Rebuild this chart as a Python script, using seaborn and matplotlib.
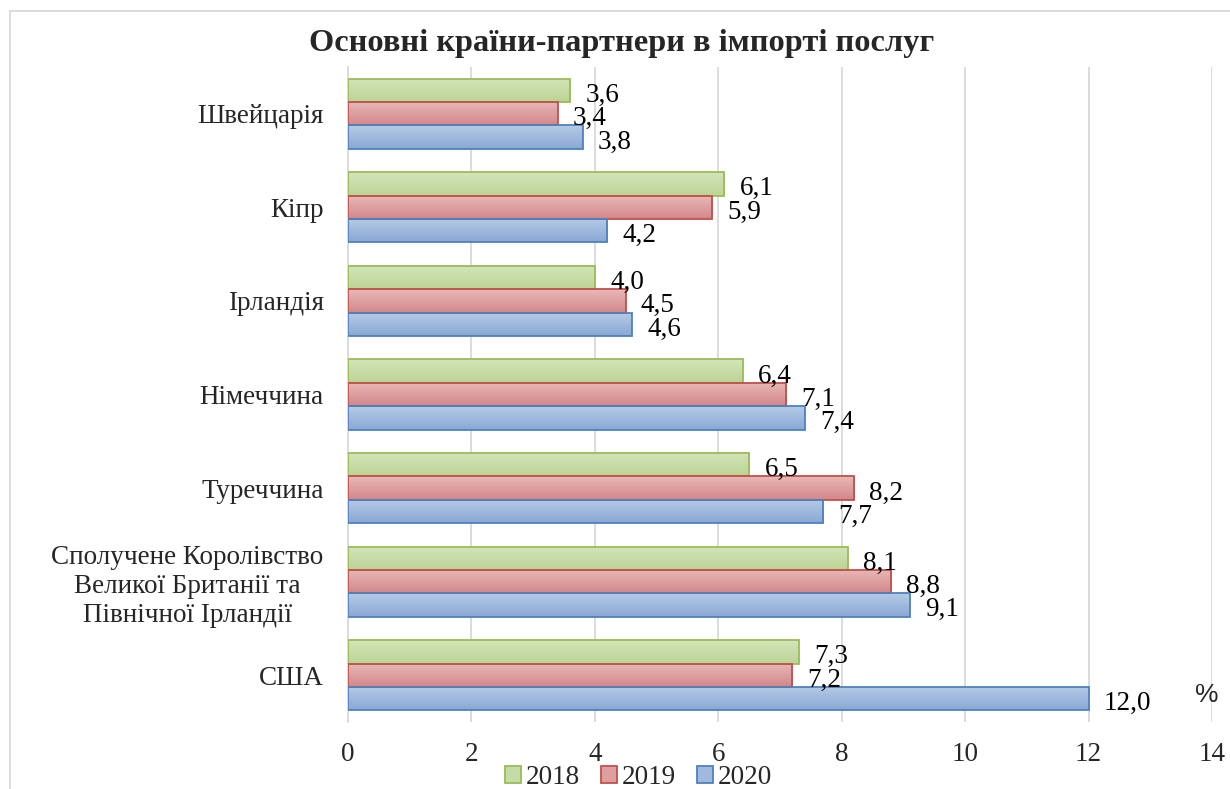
import numpy as np
import pandas as pd
import matplotlib
matplotlib.use("Agg")
import matplotlib.pyplot as plt
import seaborn as sns
from matplotlib.patches import Patch
from matplotlib.lines import Line2D
from matplotlib.colors import LinearSegmentedColormap

# ---- data ----
countries = ["Швейцарія", "Кіпр", "Ірландія", "Німеччина", "Туреччина",
             "Сполучене Королівство\nВеликої Британії та\nПівнічної Ірландії", "США"]
years = ["2018", "2019", "2020"]
v2018 = [3.6, 6.1, 4.0, 6.4, 6.5, 8.1, 7.3]
v2019 = [3.4, 5.9, 4.5, 7.1, 8.2, 8.8, 7.2]
v2020 = [3.8, 4.2, 4.6, 7.4, 7.7, 9.1, 12.0]
x_ticks = [0, 2, 4, 6, 8, 10, 12, 14]
title = "Основні країни-партнери в імпорті послуг"

df = pd.DataFrame({
    "country": countries * 3,
    "year": [y for y in years for _ in countries],
    "value": v2018 + v2019 + v2020,
})

fill_top = ["#d3e5b8", "#e8b8b7", "#b5cbe6"]
fill_bot = ["#bcd497", "#d3878a", "#8aa8d4"]
fill_mid = ["#c6dca6", "#dd9f9f", "#a0b9dd"]
edges = ["#9bbb59", "#c0504d", "#4f81bd"]

sns.set_theme(style="white")
plt.rcParams["font.family"] = ["Liberation Serif", "DejaVu Serif"]

FS = 19.5

fig = plt.figure(figsize=(12.3, 7.89), dpi=100)
ax = fig.add_axes([348/1230, 67/789, (1212-348)/1230, 655/789])

sns.barplot(data=df, y="country", x="value", hue="year", hue_order=years,
            order=countries, orient="h", palette=fill_mid, width=0.75,
            gap=0, ax=ax, legend=False, saturation=1)

ax.set_xlim(0, 14)
ax.set_ylim(6.5, -0.5)

for i, cont in enumerate(ax.containers):
    cmap = LinearSegmentedColormap.from_list(f"g{i}", [fill_top[i], fill_bot[i]])
    grad = np.linspace(0, 1, 64).reshape(-1, 1)
    for bar in cont:
        bar.set_edgecolor(edges[i])
        bar.set_linewidth(1.3)
        bar.set_facecolor("none")
        bar.set_zorder(3)
        x0, y0 = bar.get_x(), bar.get_y()
        w, h = bar.get_width(), bar.get_height()
        ya, yb = min(y0, y0 + h), max(y0, y0 + h)
        im = ax.imshow(grad, cmap=cmap, aspect="auto",
                       extent=(x0, x0 + w, yb, ya), origin="upper", zorder=2.5)
        im.set_clip_path(bar)
    anns = ax.bar_label(cont, labels=[f"{v:.1f}".replace(".", ",") for v in cont.datavalues],
                        padding=11, fontsize=FS, color="black")
    for a in anns:
        a.xyann = (11, -3.5)

ax.set_xlim(0, 14)
ax.set_ylim(6.5, -0.5)
ax.set_xticks(x_ticks)
ax.set_xticklabels([str(t) for t in x_ticks], fontsize=FS)
ax.tick_params(axis="x", length=0, pad=14.5)
ax.tick_params(axis="y", length=0, pad=17.5, labelsize=FS)
for lab in ax.get_yticklabels():
    lab.set_multialignment("center")
ax.set_xlabel("")
ax.set_ylabel("")
ax.grid(axis="x", color="#d9d9d9", linewidth=1.3, zorder=0)
ax.set_axisbelow(True)
for s in ["top", "right", "bottom"]:
    ax.spines[s].set_visible(False)
ax.spines["left"].set_color("#d9d9d9")
ax.spines["left"].set_linewidth(1.3)

ax.text(0.994, 0.041, "%", transform=ax.transAxes, ha="center", va="center",
        fontsize=19, family=["Liberation Sans", "DejaVu Sans"])

fig.text(0.505, 0.945, title, ha="center", va="center", fontsize=23.3, fontweight="bold")

handles = [Patch(facecolor=fill_mid[i], edgecolor=edges[i], linewidth=1.3, label=years[i])
           for i in range(3)]
fig.legend(handles=handles, loc="center", bbox_to_anchor=(0.519, 0.0145), ncol=3,
           frameon=False, fontsize=FS, handlelength=0.6, handleheight=0.6,
           handletextpad=0.15, columnspacing=0.8, borderpad=0, borderaxespad=0)

fig.add_artist(Line2D([9.5/1230, 9.5/1230], [0, 1 - 10.5/789], transform=fig.transFigure,
                      color="#d9d9d9", linewidth=1.3))
fig.add_artist(Line2D([9.5/1230, 1], [1 - 10.5/789, 1 - 10.5/789], transform=fig.transFigure,
                      color="#d9d9d9", linewidth=1.3))

fig.savefig("out.png", dpi=100)
